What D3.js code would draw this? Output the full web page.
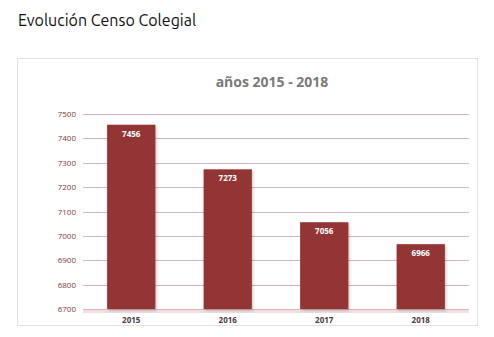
<!DOCTYPE html>
<html><head><meta charset="utf-8">
<script src="https://cdn.jsdelivr.net/npm/d3@7"></script>
<style>
html,body{margin:0;padding:0;background:#fff;}
</style></head>
<body>
<svg id="c" width="494" height="337"></svg>
<script>
const categories = ["2015","2016","2017","2018"];
const values = [7456, 7273, 7056, 6966];
const yTicks = [6700,6800,6900,7000,7100,7200,7300,7400,7500];
const pageTitle = "Evolución Censo Colegial";
const chartTitle = "años 2015 - 2018";

const svg = d3.select("#c");
svg.append("text").attr("x",18).attr("y",26)
  .attr("font-family","Ubuntu, 'Open Sans', sans-serif").attr("font-size",16)
  .attr("fill","#111").text(pageTitle);

svg.append("rect").attr("x",17.5).attr("y",58.5).attr("width",460).attr("height",267)
  .attr("fill","#fff").attr("stroke","#e2e2e2");

svg.append("text").attr("x",272).attr("y",87).attr("text-anchor","middle")
  .attr("font-family","'Open Sans', sans-serif").attr("font-weight","bold").attr("font-size",14)
  .attr("fill","#7a7a7a").text(chartTitle);

const x = d3.scaleBand().domain(categories).range([83,469]).paddingInner(0.5).paddingOuter(0.25);
const y = d3.scaleLinear().domain([6700,7500]).range([309,114]);

const defs = svg.append("defs");
const f = defs.append("filter").attr("id","sh").attr("x","-20%").attr("y","-20%").attr("width","140%").attr("height","140%");
f.append("feDropShadow").attr("dx",1).attr("dy",1.5).attr("stdDeviation",1.5).attr("flood-color","#000").attr("flood-opacity",0.25);

svg.append("rect").attr("x",83).attr("y",309).attr("width",386).attr("height",4)
  .attr("fill","#f3dfe2");

const grid = svg.append("g");
grid.selectAll("line").data(yTicks).join("line")
  .attr("x1",83).attr("x2",469).attr("y1",d=>Math.round(y(d))+0.5).attr("y2",d=>Math.round(y(d))+0.5)
  .attr("stroke","#dcb6bb").attr("stroke-width",1);

const yAxis = d3.axisLeft(y).tickValues(yTicks).tickFormat(d3.format("d")).tickSize(0).tickPadding(7);
const ga = svg.append("g").attr("transform","translate(83,0)").call(yAxis);
ga.select(".domain").remove();
ga.selectAll("text").attr("font-family","'Open Sans', Calibri, sans-serif").attr("font-size",8)
  .attr("fill","#7a3a3a");

svg.append("g").selectAll("rect").data(values).join("rect")
  .attr("x",(d,i)=>x(categories[i])).attr("width",x.bandwidth())
  .attr("y",d=>y(d)).attr("height",d=>y(6700)-y(d))
  .attr("fill","#943634").attr("filter","url(#sh)");

svg.append("g").selectAll("text").data(values).join("text")
  .attr("x",(d,i)=>x(categories[i])+x.bandwidth()/2).attr("y",d=>y(d)+12)
  .attr("text-anchor","middle").attr("font-family","'Open Sans', sans-serif")
  .attr("font-weight","bold").attr("font-size",8).attr("fill","#fff").text(d=>d);

const xAxis = d3.axisBottom(x).tickSize(0).tickPadding(8);
const gx = svg.append("g").attr("transform","translate(0,309)").call(xAxis);
gx.select(".domain").remove();
gx.selectAll("text").attr("font-family","'Open Sans', sans-serif").attr("font-weight","bold")
  .attr("font-size",8).attr("fill","#4a3a44");
</script>
</body></html>
